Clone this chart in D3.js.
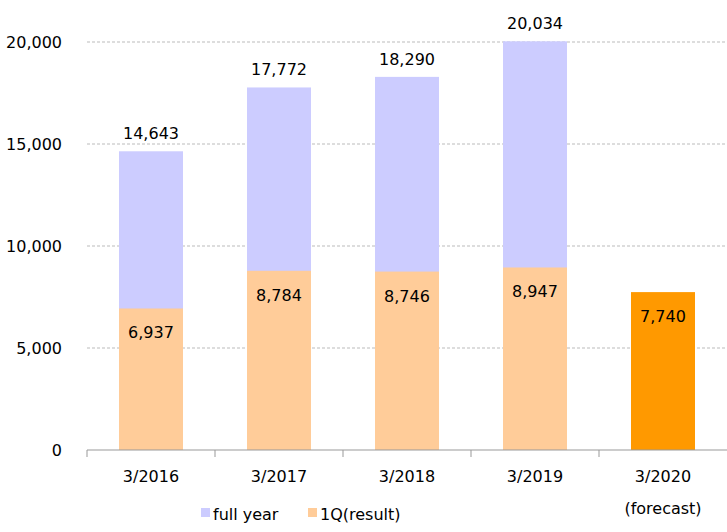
<!DOCTYPE html>
<html><head><meta charset="utf-8">
<script src="https://cdn.jsdelivr.net/npm/d3@7"></script>
<style>body{margin:0;background:#fff}text{font-family:"DejaVu Sans",sans-serif;font-size:16px;fill:#000}</style>
</head><body><svg id="c" width="727" height="532"></svg>
<script>
var categories = ['3/2016', '3/2017', '3/2018', '3/2019', '3/2020'];
var fullYear = [14643, 17772, 18290, 20034, null];
var firstQ = [6937, 8784, 8746, 8947, 7740];
var yTicks = [0, 5000, 10000, 15000, 20000];

var svg = d3.select('#c');
var x = d3.scaleBand().domain(categories).range([87, 727]).paddingInner(0.5).paddingOuter(0.25);
var y = d3.scaleLinear().domain([0, 20000]).range([450, 42]);
var fmt = d3.format(',');

// grid
svg.selectAll('.grid').data(yTicks.slice(1)).enter().append('line')
    .attr('x1', 87).attr('x2', 727).attr('y1', y).attr('y2', y)
    .attr('stroke', '#bbb').attr('stroke-dasharray', '3,2');
svg.selectAll('.yl').data(yTicks).enter().append('text')
    .attr('x', 62).attr('y', function (d) { return y(d) + 6; })
    .attr('text-anchor', 'end').text(fmt);

// full year bars
fullYear.forEach(function (v, i) {
    if (v == null) return;
    svg.append('rect').attr('x', x(categories[i])).attr('width', x.bandwidth())
        .attr('y', y(v)).attr('height', y(0) - y(v)).attr('fill', '#ccccff');
    svg.append('text').attr('x', x(categories[i]) + x.bandwidth() / 2).attr('y', y(v) - 12)
        .attr('text-anchor', 'middle').text(fmt(v));
});
firstQ.forEach(function (v, i) {
    svg.append('rect').attr('x', x(categories[i])).attr('width', x.bandwidth())
        .attr('y', y(v)).attr('height', y(0) - y(v))
        .attr('fill', i === 4 ? '#ff9900' : '#ffcc99');
    svg.append('text').attr('x', x(categories[i]) + x.bandwidth() / 2).attr('y', y(v) + 30)
        .attr('text-anchor', 'middle').text(fmt(v));
});

// x axis
svg.append('line').attr('x1', 87).attr('x2', 727).attr('y1', 450).attr('y2', 450).attr('stroke', '#999');
categories.forEach(function (c, i) {
    var x0 = 87 + i * 128;
    svg.append('line').attr('x1', x0).attr('x2', x0).attr('y1', 450).attr('y2', 457).attr('stroke', '#999');
    svg.append('text').attr('x', x(c) + x.bandwidth() / 2).attr('y', 482)
        .attr('text-anchor', 'middle').text(c);
});
svg.append('text').attr('x', x('3/2020') + x.bandwidth() / 2).attr('y', 514)
    .attr('text-anchor', 'middle').text('(forecast)');

// legend
var legend = [['full year', '#ccccff', 201], ['1Q(result)', '#ffcc99', 308]];
legend.forEach(function (l) {
    svg.append('rect').attr('x', l[2]).attr('y', 508).attr('width', 9).attr('height', 9).attr('fill', l[1]);
    svg.append('text').attr('x', l[2] + 12).attr('y', 520).text(l[0]);
});
</script></body></html>
